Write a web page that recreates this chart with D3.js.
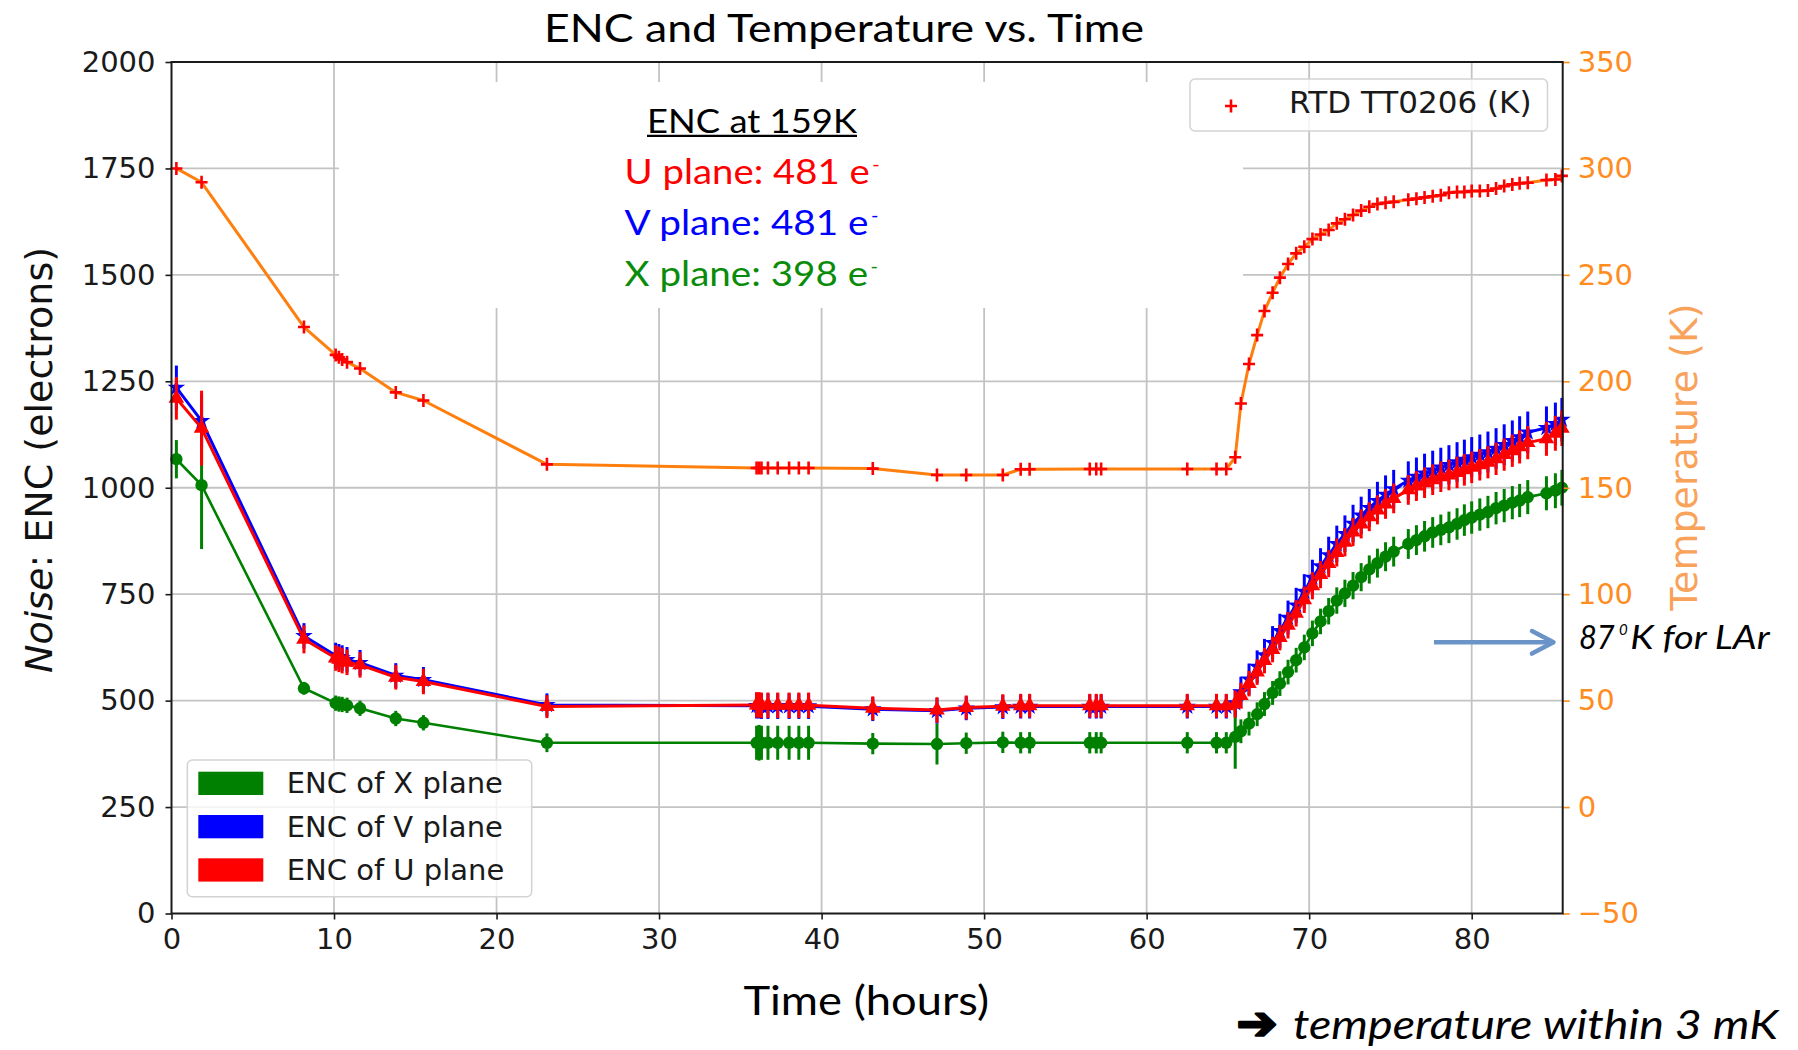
<!DOCTYPE html>
<html>
<head>
<meta charset="utf-8">
<script src="https://cdn.jsdelivr.net/npm/d3@7"></script>
<style>
  html, body { margin: 0; padding: 0; background: #ffffff; }
  svg { display: block; }
</style>
</head>
<body>
<svg id="chart" width="1798" height="1050"></svg>
<script>
// ---- data -------------------------------------------------------------
const hours = [0.3, 1.85, 8.15, 10.1, 10.3, 10.5, 10.8, 11.6, 13.8, 15.5, 23.1,
  36.0, 36.15, 36.3, 36.7, 37.3, 38.0, 38.6, 39.2,
  43.15, 47.1, 48.9, 51.15, 52.25, 52.8, 56.5, 56.9, 57.2, 62.5, 64.3, 64.9, 65.45,
  65.8, 66.3, 66.8, 67.25, 67.75, 68.2, 68.7, 69.2, 69.7, 70.2, 70.7, 71.2, 71.7, 72.2, 72.7, 73.2, 73.7, 74.2, 74.7, 75.2,
  76.1, 76.6, 77.1, 77.6, 78.1, 78.6, 79.1, 79.55, 80.0, 80.5, 81.0, 81.5, 82.0, 82.5, 82.95, 83.45,
  84.6, 85.15, 85.55];

// RTD TT0206 temperature (K)
const tempK = [300, 293.5, 225.5, 212.4, 211.3, 210.3, 209.0, 206.0, 194.8, 191.0, 161.0,
  159.3, 159.3, 159.3, 159.3, 159.3, 159.3, 159.3, 159.3,
  159.0, 156.0, 156.0, 156.0, 158.7, 158.7, 158.8, 158.8, 158.8, 158.8, 158.8, 158.8, 164.3,
  189.6, 208.1, 221.7, 233.0, 241.6, 248.7, 255.1, 260.1, 263.2, 266.8, 269.0, 271.1, 274.2, 276.1, 278.1, 280.2, 282.0, 283.3, 283.9, 284.3,
  285.3, 285.8, 286.4, 286.9, 287.4, 288.6, 288.9, 288.9, 289.4, 289.4, 289.6, 290.6, 291.7, 292.5, 293.0, 293.3,
  294.6, 294.8, 296.5];

// ENC of U plane (electrons) and its uncertainty
const encU = [1210, 1140, 644, 600, 597, 594, 590, 584, 555, 545, 486,
  490, 490, 489, 489, 489, 489, 489, 489,
  482, 478, 484, 487, 488, 488, 488, 488, 488, 488, 488, 488, 492,
  512, 540, 567, 594, 620, 648, 677, 705, 737, 770, 796, 822, 848, 872, 896, 915, 932, 948, 962, 975,
  995, 1004, 1012, 1019, 1026, 1030, 1036, 1042, 1048, 1054, 1060, 1068, 1078, 1087, 1096, 1106,
  1115, 1128, 1140];
const encUErr = [50, 88, 33, 30, 30, 30, 30, 30, 29, 30, 27,
  30, 30, 30, 30, 30, 30, 30, 30,
  28, 30, 28, 28, 28, 28, 28, 28, 28, 28, 28, 28, 32,
  30, 30, 30, 30, 30, 30, 31, 31, 31, 32, 32, 32, 33, 33, 33, 34, 34, 34, 35, 35,
  35, 35, 36, 36, 36, 36, 37, 37, 37, 37, 38, 38, 38, 38, 39, 39,
  40, 41, 42];

// ENC of V plane (electrons) and its uncertainty
const encV = [1235, 1157, 652, 606, 603, 600, 596, 589, 559, 549, 490,
  488, 488, 487, 487, 487, 487, 487, 487,
  480, 476, 482, 485, 486, 486, 486, 486, 486, 486, 486, 486, 494,
  520, 550, 580, 607, 636, 664, 695, 724, 756, 789, 816, 842, 868, 892, 916, 935, 953, 969, 984, 997,
  1017, 1026, 1034, 1041, 1048, 1054, 1060, 1066, 1072, 1078, 1084, 1092, 1101, 1110, 1119, 1130,
  1141, 1150, 1160];
const encVErr = [52, 62, 30, 30, 30, 30, 30, 30, 29, 30, 27,
  30, 30, 30, 30, 30, 30, 30, 30,
  28, 30, 28, 28, 28, 28, 28, 28, 28, 28, 28, 28, 32,
  36, 37, 38, 38, 39, 40, 40, 41, 41, 42, 42, 43, 43, 43, 44, 44, 44, 45, 45, 45,
  45, 45, 46, 46, 46, 46, 47, 47, 47, 47, 48, 48, 48, 48, 49, 49,
  50, 50, 51];

// ENC of X plane (electrons) and its uncertainty
const encX = [1067, 1006, 529, 494, 492, 491, 489, 482, 458, 448, 401,
  401, 401, 401, 401, 401, 401, 401, 401,
  399, 398, 400, 402, 401, 401, 401, 401, 401, 401, 401, 401, 415,
  428, 446, 468, 492, 518, 540, 567, 595, 625, 658, 686, 710, 735, 752, 770, 790, 808, 823, 838, 850,
  868, 877, 886, 895, 901, 907, 915, 924, 930, 937, 943, 952, 958, 965, 970, 978,
  987, 993, 1000];
const encXErr = [45, 150, 15, 18, 18, 18, 18, 18, 18, 18, 22,
  40, 42, 40, 40, 40, 40, 40, 40,
  25, 48, 25, 25, 25, 25, 25, 25, 25, 25, 25, 25, 75,
  28, 28, 28, 28, 28, 29, 29, 29, 30, 30, 30, 31, 31, 32, 32, 33, 33, 34, 34, 35,
  35, 35, 36, 36, 36, 37, 37, 37, 38, 38, 38, 38, 39, 39, 39, 40,
  40, 41, 42];

const hourTicks = [0, 10, 20, 30, 40, 50, 60, 70, 80];
const encTicks = [0, 250, 500, 750, 1000, 1250, 1500, 1750, 2000];
const tempTicks = [-50, 0, 50, 100, 150, 200, 250, 300, 350];
const hourDomain = [0, 85.6];
const encDomain = [0, 2000];
const tempDomain = [-50, 350];

const planeNames = ["U", "V", "X"];
const encAt159K = [481, 481, 398];
const legendPlanes = ["X", "V", "U"];

// ---- layout -----------------------------------------------------------
const svg = d3.select("#chart");
const plot = { left: 171.5, right: 1562.7, top: 62, bottom: 913.5 };
const FONT_MPL = "'DejaVu Sans', sans-serif";
const FONT_SLIDE = "Lato, 'Open Sans', sans-serif";
const ORANGE = "#ff7f0e";
const ORANGE_TXT = "#ff8c1e";
const planeColor = { U: "#ff0000", V: "#0000ff", X: "#008000" };

const x = d3.scaleLinear().domain(hourDomain).range([plot.left, plot.right]);
const yEnc = d3.scaleLinear().domain(encDomain).range([plot.bottom, plot.top]);
const yTemp = d3.scaleLinear().domain(tempDomain).range([plot.bottom, plot.top]);

function fit(sel, w) {
  return sel.attr("textLength", w).attr("lengthAdjust", "spacingAndGlyphs");
}

// grid
const grid = svg.append("g").attr("stroke", "#c3c3c3").attr("stroke-width", 1.8);
grid.selectAll("line.h").data(encTicks.filter(v => v > encDomain[0] && v < encDomain[1]))
  .join("line").attr("class", "h")
  .attr("x1", plot.left).attr("x2", plot.right)
  .attr("y1", d => yEnc(d)).attr("y2", d => yEnc(d));
grid.selectAll("line.v").data(hourTicks.filter(v => v > hourDomain[0]))
  .join("line").attr("class", "v")
  .attr("x1", d => x(d)).attr("x2", d => x(d))
  .attr("y1", plot.top).attr("y2", plot.bottom);

// white panel behind the ENC summary text
svg.append("rect").attr("x", 339).attr("y", 82).attr("width", 904).attr("height", 226).attr("fill", "#ffffff");

// ---- ENC series -------------------------------------------------------
function drawEnc(vals, errs, color, shape, lw) {
  const pts = hours.map((t, i) => ({ t, v: vals[i], e: errs[i] }));
  const g = svg.append("g");
  g.selectAll("line").data(pts).join("line")
    .attr("x1", d => x(d.t)).attr("x2", d => x(d.t))
    .attr("y1", d => yEnc(d.v - d.e)).attr("y2", d => yEnc(d.v + d.e))
    .attr("stroke", color).attr("stroke-width", 3);
  g.append("path").datum(pts)
    .attr("d", d3.line().x(d => x(d.t)).y(d => yEnc(d.v)))
    .attr("fill", "none").attr("stroke", color).attr("stroke-width", lw)
    .attr("stroke-linejoin", "round");
  g.selectAll("path.m").data(pts).join("path").attr("class", "m")
    .attr("transform", d => `translate(${x(d.t)},${yEnc(d.v)})`)
    .attr("d", shape)
    .attr("fill", color);
}
drawEnc(encX, encXErr, planeColor.X, d3.symbol(d3.symbolCircle, 120)(), 2.6);
drawEnc(encV, encVErr, planeColor.V, d3.symbol(d3.symbolStar, 95)(), 3);
drawEnc(encU, encUErr, planeColor.U, d3.symbol(d3.symbolTriangle, 105)(), 3);

// ---- temperature series ----------------------------------------------
const tPts = hours.map((t, i) => ({ t, v: tempK[i] }));
svg.append("path").datum(tPts)
  .attr("d", d3.line().x(d => x(d.t)).y(d => yTemp(d.v)))
  .attr("fill", "none").attr("stroke", ORANGE).attr("stroke-width", 3)
  .attr("stroke-linejoin", "round");
const plus = "M-6,0H6M0,-6.5V6.5";
svg.append("g").selectAll("path").data(tPts).join("path")
  .attr("transform", d => `translate(${x(d.t)},${yTemp(d.v)})`)
  .attr("d", plus).attr("stroke", "#ff0000").attr("stroke-width", 2.6).attr("fill", "none");

// ---- axes -------------------------------------------------------------
function styleAxis(g, color) {
  g.select(".domain").remove();
  g.selectAll(".tick line").attr("stroke", color).attr("stroke-width", 1.6);
  g.selectAll(".tick text").attr("fill", color).attr("font-family", FONT_MPL).attr("font-size", 29);
}
svg.append("g").attr("transform", `translate(${plot.left},0)`)
  .call(d3.axisLeft(yEnc).tickValues(encTicks).tickSize(6).tickPadding(10).tickFormat(d3.format("d")))
  .call(g => styleAxis(g, "#1a1a1a"));
svg.append("g").attr("transform", `translate(0,${plot.bottom})`)
  .call(d3.axisBottom(x).tickValues(hourTicks).tickSize(6).tickPadding(9).tickFormat(d3.format("d")))
  .call(g => styleAxis(g, "#1a1a1a"));
svg.append("g").attr("transform", `translate(${plot.right},0)`)
  .call(d3.axisRight(yTemp).tickValues(tempTicks).tickSize(7).tickPadding(8)
    .tickFormat(d => d < 0 ? "\u2212" + Math.abs(d) : String(d)))
  .call(g => styleAxis(g, ORANGE_TXT));

// spines
const spines = svg.append("g").attr("stroke", "#1a1a1a").attr("stroke-width", 2).attr("fill", "none");
spines.append("rect").attr("x", plot.left).attr("y", plot.top)
  .attr("width", plot.right - plot.left).attr("height", plot.bottom - plot.top);

// axis titles
svg.append("text").attr("transform", "translate(52,460) rotate(-90)")
  .attr("text-anchor", "middle").attr("font-family", FONT_MPL).attr("font-size", 38).attr("fill", "#111")
  .call(t => {
    t.append("tspan").attr("font-style", "italic").text("Noise");
    t.append("tspan").text(": ENC (electrons)");
  });
svg.append("text").attr("transform", "translate(1697,457) rotate(-90)")
  .attr("text-anchor", "middle").attr("font-family", FONT_MPL).attr("font-size", 38).attr("fill", "#f8a25a")
  .text("Temperature (K)");
fit(svg.append("text").attr("x", 743.4).attr("y", 1015)
  .attr("font-family", FONT_SLIDE).attr("font-size", 40.5).attr("fill", "#000")
  .text("Time (hours)"), 245.6);

// title
fit(svg.append("text").attr("x", 544).attr("y", 41.7)
  .attr("font-family", FONT_SLIDE).attr("font-size", 39.5).attr("fill", "#000")
  .text("ENC and Temperature vs. Time"), 600);

// ---- ENC summary ------------------------------------------------------
fit(svg.append("text").attr("x", 647).attr("y", 132.7)
  .attr("font-family", FONT_SLIDE).attr("font-size", 32).attr("fill", "#000")
  .text("ENC at 159K"), 210);
svg.append("line").attr("x1", 647).attr("x2", 857).attr("y1", 135.8).attr("y2", 135.8)
  .attr("stroke", "#000").attr("stroke-width", 2.2);
const summaryColor = { U: "#ff0000", V: "#0000ff", X: "#0a8c0a" };
const summaryEnd = [869.7, 868.5, 868];
planeNames.forEach((p, i) => {
  const base = 184 + i * 51;
  fit(svg.append("text").attr("x", 624.6).attr("y", base)
    .attr("font-family", FONT_SLIDE).attr("font-size", 34.5).attr("fill", summaryColor[p])
    .text(`${p} plane: ${encAt159K[i]} e`), summaryEnd[i] - 624.6);
  svg.append("text").attr("x", summaryEnd[i] + 2.5).attr("y", base - 13)
    .attr("font-family", FONT_SLIDE).attr("font-size", 20).attr("fill", summaryColor[p])
    .text("-");
});

// ---- legends ----------------------------------------------------------
const encLegend = svg.append("g");
encLegend.append("rect").attr("x", 187.3).attr("y", 760).attr("width", 344.4).attr("height", 136.7)
  .attr("rx", 5).attr("fill", "#ffffff").attr("fill-opacity", 0.8)
  .attr("stroke", "#d3d3d3").attr("stroke-width", 1.5);
legendPlanes.forEach((p, i) => {
  encLegend.append("rect").attr("x", 198.3).attr("y", 771.7 + i * 43.3)
    .attr("width", 65).attr("height", 23.3).attr("fill", planeColor[p]);
  encLegend.append("text").attr("x", 286.7).attr("y", 793.3 + i * 43.3)
    .attr("font-family", FONT_MPL).attr("font-size", 29).attr("fill", "#1a1a1a")
    .text(`ENC of ${p} plane`);
});

const rtdLegend = svg.append("g");
rtdLegend.append("rect").attr("x", 1190).attr("y", 79).attr("width", 357.5).attr("height", 52)
  .attr("rx", 5).attr("fill", "#ffffff").attr("fill-opacity", 0.8)
  .attr("stroke", "#d3d3d3").attr("stroke-width", 1.5);
rtdLegend.append("path").attr("transform", "translate(1231,106)").attr("d", plus)
  .attr("stroke", "#ff0000").attr("stroke-width", 2.6);
rtdLegend.append("text").attr("x", 1289).attr("y", 113.3)
  .attr("font-family", FONT_MPL).attr("font-size", 31).attr("fill", "#1a1a1a")
  .text("RTD TT0206 (K)");

// ---- LAr marker -------------------------------------------------------
const arrowColor = "#6a93c8";
svg.append("line").attr("x1", 1434).attr("x2", 1551).attr("y1", 642.3).attr("y2", 642.3)
  .attr("stroke", arrowColor).attr("stroke-width", 4.5);
svg.append("polyline").attr("points", "1532,631 1553.5,642.3 1532,653.6")
  .attr("fill", "none").attr("stroke", arrowColor).attr("stroke-width", 4.5)
  .attr("stroke-linecap", "round").attr("stroke-linejoin", "round");
const larText = svg.append("g").attr("font-family", FONT_SLIDE).attr("font-style", "italic").attr("fill", "#000");
fit(larText.append("text").attr("x", 1579).attr("y", 649.3).attr("font-size", 33.5).text("87"), 35.7);
larText.append("text").attr("x", 1619).attr("y", 635).attr("font-size", 15).text("0");
fit(larText.append("text").attr("x", 1630.2).attr("y", 649.3).attr("font-size", 33.5).text("K for LAr"), 139.5);

// ---- footnote ---------------------------------------------------------
fit(svg.append("text").attr("x", 1236.5).attr("y", 1039)
  .attr("font-family", FONT_MPL).attr("font-weight", "bold").attr("font-size", 46).attr("fill", "#000")
  .attr("stroke", "#000").attr("stroke-width", 2.4).attr("stroke-linejoin", "round")
  .text("\u2794"), 41);
fit(svg.append("text").attr("x", 1293).attr("y", 1039)
  .attr("font-family", FONT_SLIDE).attr("font-style", "italic").attr("font-size", 41).attr("fill", "#000")
  .text("temperature within 3 mK"), 485);
</script>
</body>
</html>
